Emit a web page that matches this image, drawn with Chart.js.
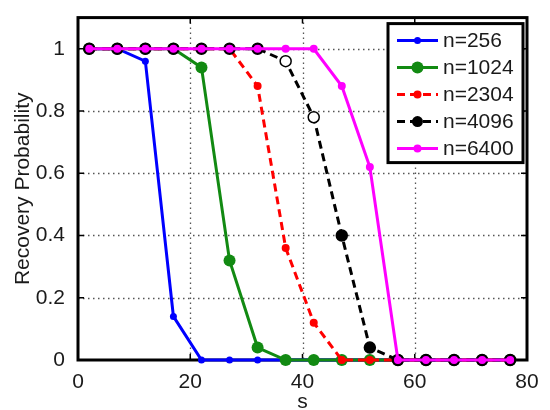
<!DOCTYPE html>
<html>
<head>
<meta charset="utf-8">
<script src="https://cdn.jsdelivr.net/npm/chart.js@4"></script>
<style>
html, body { margin: 0; padding: 0; background: #fff; }
</style>
</head>
<body>
<canvas id="recovery_plot" width="550" height="410"></canvas>
<script>

// Sparsity levels s and recovery probability for each problem size n
const s_values = [2, 7, 12, 17, 22, 27, 32, 37, 42, 47, 52, 57, 62, 67, 72, 77];
const prob_n256  = [1, 1, 0.96, 0.14, 0, 0, 0, 0, 0, 0, 0, 0, 0, 0, 0, 0];
const prob_n1024 = [1, 1, 1, 1, 0.94, 0.32, 0.04, 0, 0, 0, 0, 0, 0, 0, 0, 0];
const prob_n2304 = [1, 1, 1, 1, 1, 1, 0.88, 0.36, 0.12, 0, 0, 0, 0, 0, 0, 0];
const prob_n4096 = [1, 1, 1, 1, 1, 1, 1, 0.96, 0.78, 0.40, 0.04, 0, 0, 0, 0, 0];
const prob_n6400 = [1, 1, 1, 1, 1, 1, 1, 1, 1, 0.88, 0.62, 0, 0, 0, 0, 0];

const series_labels = ["n=256", "n=1024", "n=2304", "n=4096", "n=6400"];
const x_ticks = [0, 20, 40, 60, 80];
const y_ticks = [0, 0.2, 0.4, 0.6, 0.8, 1];

const font_family = "'Liberation Sans', Arial, Helvetica, sans-serif";
Chart.defaults.font.family = font_family;
Chart.defaults.font.size = 21;
Chart.defaults.color = "#1a1a1a";

function toPoints(ys) {
	return s_values.map((s, i) => ({ x: s, y: ys[i] }));
}

// two of the n=4096 markers are open circles
const black_fill = prob_n4096.map((v, i) => (i === 7 || i === 8) ? "#fff" : "#000");

// Dotted grid, frame, inward tick marks and boxed legend (MATLAB look)
const frame_plugin = {
	id: "frame",
	beforeDatasetsDraw(chart) {
		const ctx = chart.ctx;
		const a = chart.chartArea;
		const sx = chart.scales.x, sy = chart.scales.y;
		ctx.save();

		// dotted grid
		ctx.strokeStyle = "#555";
		ctx.lineWidth = 1.3;
		ctx.setLineDash([1.5, 3.5]);
		ctx.beginPath();
		x_ticks.slice(1, -1).forEach(v => {
			const px = Math.round(sx.getPixelForValue(v)) + 0.5;
			ctx.moveTo(px, a.top); ctx.lineTo(px, a.bottom);
		});
		y_ticks.slice(1).forEach(v => {
			const py = Math.round(sy.getPixelForValue(v)) + 0.5;
			ctx.moveTo(a.left, py); ctx.lineTo(a.right, py);
		});
		ctx.stroke();
		ctx.setLineDash([]);

		ctx.strokeStyle = "#000";
		ctx.lineWidth = 1.5;
		ctx.beginPath();
		x_ticks.forEach(v => {
			const px = sx.getPixelForValue(v);
			ctx.moveTo(px, a.bottom); ctx.lineTo(px, a.bottom - 6);
			ctx.moveTo(px, a.top); ctx.lineTo(px, a.top + 6);
		});
		y_ticks.forEach(v => {
			const py = sy.getPixelForValue(v);
			ctx.moveTo(a.left, py); ctx.lineTo(a.left + 6, py);
			ctx.moveTo(a.right, py); ctx.lineTo(a.right - 6, py);
		});
		ctx.stroke();
		ctx.lineWidth = 3;
		ctx.strokeRect(a.left, a.top, a.right - a.left, a.bottom - a.top);
		ctx.restore();
	},
	afterDraw(chart) {
		const ctx = chart.ctx;
		const a = chart.chartArea;
		const box_w = 135, box_h = 139;
		const bx = a.right - 4 - box_w, by = a.top + 6;
		ctx.save();
		ctx.fillStyle = "#fff";
		ctx.fillRect(bx, by, box_w, box_h);
		ctx.strokeStyle = "#000";
		ctx.lineWidth = 3;
		ctx.strokeRect(bx, by, box_w, box_h);
		ctx.font = "21px " + font_family;
		ctx.textBaseline = "middle";
		chart.data.datasets.forEach((ds, i) => {
			const y = by + 17 + i * 27;
			const x0 = bx + 9, x1 = bx + 50;
			ctx.strokeStyle = ds.borderColor;
			ctx.lineWidth = ds.borderWidth;
			ctx.setLineDash(ds.borderDash || []);
			ctx.beginPath();
			ctx.moveTo(x0, y); ctx.lineTo(x1, y);
			ctx.stroke();
			ctx.setLineDash([]);
			ctx.fillStyle = ds.borderColor;
			ctx.beginPath();
			ctx.arc((x0 + x1) / 2, y, ds.pointRadius, 0, Math.PI * 2);
			ctx.fill();
			ctx.fillStyle = "#1a1a1a";
			ctx.fillText(series_labels[i], bx + 55, y + 1);
		});
		ctx.restore();
	}
};

const ctx = document.getElementById("recovery_plot").getContext("2d");

new Chart(ctx, {
	type: "line",
	data: {
		datasets: [
			{
				data: toPoints(prob_n256),
				borderColor: "#0000ff",
				backgroundColor: "#0000ff",
				borderWidth: 3,
				pointRadius: 3.5,
				pointBorderWidth: 0,
				order: 4,
			},
			{
				data: toPoints(prob_n1024),
				borderColor: "#128a12",
				backgroundColor: "#128a12",
				borderWidth: 3,
				pointRadius: 6,
				pointBorderWidth: 0,
				order: 3,
			},
			{
				data: toPoints(prob_n2304),
				borderColor: "#ff0000",
				backgroundColor: "#ff0000",
				borderWidth: 3,
				borderDash: [8, 5],
				pointRadius: 4,
				pointBorderWidth: 0,
				order: 2,
			},
			{
				data: toPoints(prob_n4096),
				borderColor: "#000000",
				backgroundColor: black_fill,
				pointBorderColor: "#000000",
				borderWidth: 3,
				borderDash: [8, 5],
				pointRadius: 5.5,
				pointBorderWidth: 1.5,
				order: 1,
			},
			{
				data: toPoints(prob_n6400),
				borderColor: "#ff00ff",
				backgroundColor: "#ff00ff",
				borderWidth: 3,
				pointRadius: 4,
				pointBorderWidth: 0,
				order: 0,
			}
		]
	},
	options: {
		responsive: false,
		animation: false,
		events: [],
		layout: { padding: { top: 10, right: 23, left: 0, bottom: 0 } },
		elements: { line: { tension: 0, fill: false } },
		datasets: { line: { clip: false } },
		plugins: {
			legend: { display: false },
			tooltip: { enabled: false },
		},
		scales: {
			x: {
				type: "linear",
				min: 0,
				max: 80,
				afterBuildTicks: s => { s.ticks = x_ticks.map(v => ({ value: v })); },
				afterFit: s => { s.height = 50; },
				ticks: { padding: 2, callback: v => String(v) },
				grid: { display: false },
				border: { display: false },
				title: { display: true, text: "s", font: { size: 21, lineHeight: 0.7 }, padding: { top: 0, bottom: 0 } },
			},
			y: {
				type: "linear",
				min: 0,
				max: 1.1,
				afterBuildTicks: s => { s.ticks = y_ticks.map(v => ({ value: v })); },
				afterFit: s => { s.width = 78; },
				ticks: { padding: 5, callback: v => String(v) },
				grid: { display: false },
				border: { display: false },
				title: { display: true, text: "Recovery Probability", font: { size: 21, lineHeight: 1 }, padding: { top: 13, bottom: 0 } },
			}
		}
	},
	plugins: [frame_plugin]
});
</script>
</body>
</html>
